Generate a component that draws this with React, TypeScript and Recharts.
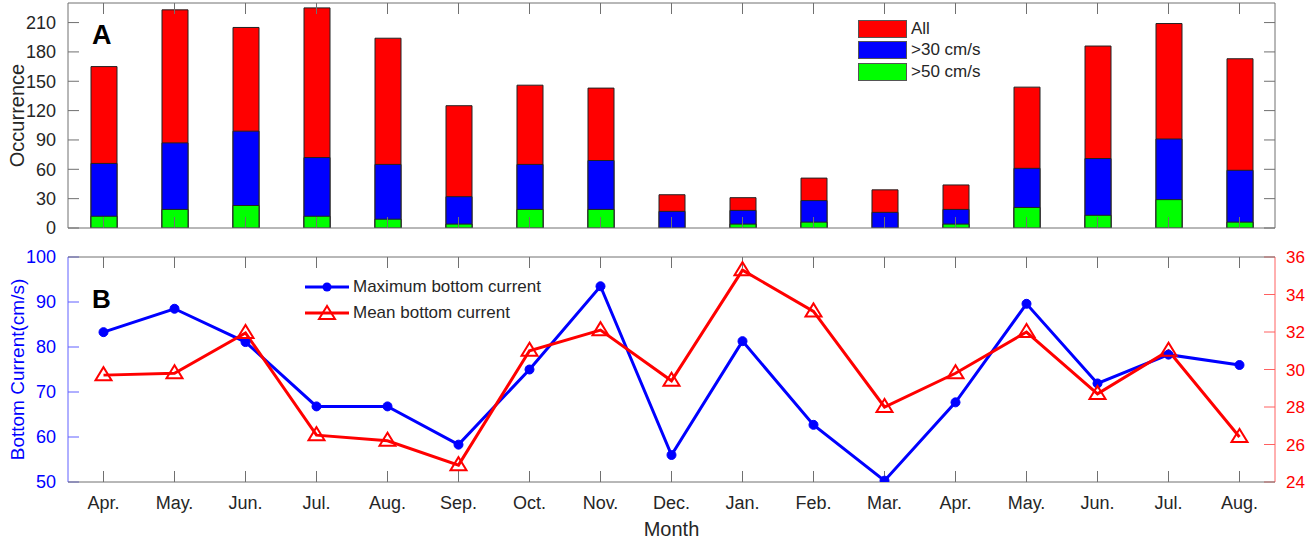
import { Bar, BarChart, Line, LineChart, XAxis, YAxis } from "recharts";

const months = [
  "Apr.", "May.", "Jun.", "Jul.", "Aug.", "Sep.", "Oct.", "Nov.", "Dec.",
  "Jan.", "Feb.", "Mar.", "Apr.", "May.", "Jun.", "Jul.", "Aug.",
];
const allCounts = [165, 223, 205, 225, 194, 125, 146, 143, 34, 31, 51, 39, 44, 144, 186, 209, 173];
const over30 = [66, 87, 99, 72, 65, 32, 65, 69, 17, 18, 28, 16, 19, 61, 71, 91, 59];
const over50 = [12, 19, 23, 12, 9, 4, 19, 19, 0, 4, 6, 0, 4, 21, 13, 29, 6];
const maxCurrent = [83.3, 88.5, 81.1, 66.8, 66.8, 58.3, 75, 93.5, 56, 81.3, 62.7, 50.3, 67.7, 89.6, 71.9, 78.3, 76];
const meanCurrent = [29.7, 29.8, 31.95, 26.5, 26.2, 24.9, 31.0, 32.1, 29.4, 35.3, 33.1, 28.0, 29.8, 32.0, 28.7, 31.0, 26.4];

const countTicks = [0, 30, 60, 90, 120, 150, 180, 210];
const maxTicks = [50, 60, 70, 80, 90, 100];
const meanTicks = [24, 26, 28, 30, 32, 34, 36];

const barSeries = [
  { key: "all", name: "All", color: "#ff0000" },
  { key: "o30", name: ">30 cm/s", color: "#0000ff" },
  { key: "o50", name: ">50 cm/s", color: "#00ff00" },
];
const lineSeries = [
  { key: "max", name: "Maximum bottom current", color: "#0000ff", shape: "dot" },
  { key: "mean", name: "Mean bottom current", color: "#ff0000", shape: "tri" },
];

const FONT = '"Liberation Sans", Arial, sans-serif';
const AXIS = "#707070";
const TXT = "#262626";
// half of one month slot, so the line points sit at the same x as the bars
const HALF_SLOT = 35.5;

const barData = months.map((m, i) => ({ month: m, all: allCounts[i], o30: over30[i], o50: over50[i] }));
const lineData = months.map((m, i) => ({ month: m, max: maxCurrent[i], mean: meanCurrent[i] }));

const blank = () => "";

function Triangle({ cx, cy, stroke }: any) {
  if (cx == null || cy == null) return null;
  return (
    <polygon
      points={`${cx},${cy - 8} ${cx - 8},${cy + 5} ${cx + 8},${cy + 5}`}
      fill="none"
      stroke={stroke}
      strokeWidth={2}
    />
  );
}

function BarLegend() {
  return (
    <div style={{ fontFamily: FONT, fontSize: 17, color: TXT }}>
      {barSeries.map((s) => (
        <div key={s.key} style={{ display: "flex", alignItems: "center", height: 21.5 }}>
          <span
            style={{ width: 47, height: 16, background: s.color, border: "1px solid #555", marginRight: 4 }}
          />
          <span>{s.name}</span>
        </div>
      ))}
    </div>
  );
}

function LineLegend() {
  return (
    <div style={{ fontFamily: FONT, fontSize: 17, color: TXT }}>
      {lineSeries.map((s) => (
        <div key={s.key} style={{ display: "flex", alignItems: "center", height: 26 }}>
          <svg width={48} height={20} style={{ marginRight: 2 }}>
            <line x1={2} x2={46} y1={10} y2={10} stroke={s.color} strokeWidth={3} />
            {s.shape === "dot" ? (
              <circle cx={24} cy={10} r={4.5} fill={s.color} />
            ) : (
              <Triangle cx={24} cy={11} stroke={s.color} />
            )}
          </svg>
          <span>{s.name}</span>
        </div>
      ))}
    </div>
  );
}

// tick marks only, drawn inside the plot box
const inwardY = (id: string, domain: number[], ticks: number[], side: "left" | "right", color: string) => (
  <YAxis
    yAxisId={id}
    orientation={side}
    mirror
    width={1}
    domain={domain}
    ticks={ticks}
    interval={0}
    allowDataOverflow
    tickSize={11}
    tickFormatter={blank}
    axisLine={false}
    tickLine={{ stroke: color }}
  />
);

export default function App() {
  return (
    <div style={{ position: "fixed", left: 0, top: 0, width: 1305, height: 540, background: "#fff", fontFamily: FONT }}>
      <div style={{ position: "absolute", left: 0, top: 0 }}>
        <BarChart
          width={1305}
          height={240}
          data={barData}
          margin={{ top: 3, right: 30, bottom: 12, left: 0 }}
          barSize={26}
          barGap={-26}
        >
          <YAxis
            domain={[0, 230]}
            ticks={countTicks}
            interval={0}
            allowDataOverflow
            width={68}
            tickLine={false}
            tickMargin={6}
            axisLine={{ stroke: AXIS }}
            tick={{ fill: TXT, fontSize: 18, fontFamily: FONT }}
            label={{ value: "Occurrence", angle: -90, position: "center", dx: -17, style: { fill: TXT, fontSize: 20, fontFamily: FONT } }}
          />
          {inwardY("lt", [0, 230], countTicks, "left", AXIS)}
          <YAxis
            yAxisId="rt"
            orientation="right"
            mirror
            width={1}
            domain={[0, 230]}
            ticks={countTicks}
            interval={0}
            allowDataOverflow
            tickSize={11}
            tickFormatter={blank}
            axisLine={{ stroke: AXIS }}
            tickLine={{ stroke: AXIS }}
          />
          {barSeries.map((s) => (
            <Bar key={s.key} dataKey={s.key} name={s.name} fill={s.color} stroke="#222" strokeWidth={1} isAnimationActive={false} />
          ))}
          <XAxis
            dataKey="month"
            mirror
            height={1}
            interval={0}
            tickSize={11}
            tickFormatter={blank}
            axisLine={{ stroke: AXIS }}
            tickLine={{ stroke: AXIS }}
          />
          <XAxis
            xAxisId="top"
            dataKey="month"
            orientation="top"
            mirror
            height={1}
            interval={0}
            tickSize={11}
            tickFormatter={blank}
            axisLine={{ stroke: AXIS }}
            tickLine={{ stroke: AXIS }}
          />
        </BarChart>
      </div>
      <div style={{ position: "absolute", left: 858, top: 18 }}>
        <BarLegend />
      </div>
      <div style={{ position: "absolute", left: 0, top: 240 }}>
        <LineChart width={1305} height={300} data={lineData} margin={{ top: 17, right: 0, bottom: 0, left: 0 }}>
          <YAxis
            yAxisId="max"
            domain={[50, 100]}
            ticks={maxTicks}
            interval={0}
            allowDataOverflow
            width={68}
            tickLine={false}
            tickMargin={6}
            axisLine={{ stroke: "#6060ff" }}
            tick={{ fill: "#0000ff", fontSize: 18, fontFamily: FONT }}
            label={{ value: "Bottom Current(cm/s)", angle: -90, position: "center", dx: -17, style: { fill: "#0000ff", fontSize: 19, fontFamily: FONT } }}
          />
          {inwardY("maxTicks", [50, 100], maxTicks, "left", "#6060ff")}
          <YAxis
            yAxisId="mean"
            orientation="right"
            domain={[24, 36]}
            ticks={meanTicks}
            interval={0}
            allowDataOverflow
            width={30}
            tickLine={false}
            tickMargin={5}
            axisLine={{ stroke: "#ff6060" }}
            tick={{ fill: "#ff0000", fontSize: 17, fontFamily: FONT }}
          />
          {inwardY("meanTicks", [24, 36], meanTicks, "right", "#ff6060")}
          <Line
            yAxisId="max"
            dataKey="max"
            name="Maximum bottom current"
            stroke="#0000ff"
            strokeWidth={3}
            dot={{ r: 4.5, fill: "#0000ff", stroke: "#0000ff", strokeWidth: 1 }}
            isAnimationActive={false}
          />
          <Line
            yAxisId="mean"
            dataKey="mean"
            name="Mean bottom current"
            stroke="#ff0000"
            strokeWidth={3}
            dot={<Triangle stroke="#ff0000" />}
            isAnimationActive={false}
          />
          <XAxis
            dataKey="month"
            mirror
            height={1}
            interval={0}
            padding={{ left: HALF_SLOT, right: HALF_SLOT }}
            tickSize={11}
            tickFormatter={blank}
            axisLine={{ stroke: AXIS }}
            tickLine={{ stroke: AXIS }}
          />
          <XAxis
            xAxisId="lab"
            dataKey="month"
            height={58}
            interval={0}
            padding={{ left: HALF_SLOT, right: HALF_SLOT }}
            tickSize={0}
            tickMargin={14}
            axisLine={false}
            tickLine={false}
            tick={{ fill: TXT, fontSize: 18, fontFamily: FONT }}
            label={{ value: "Month", position: "insideBottom", offset: 4, style: { fill: TXT, fontSize: 20, fontFamily: FONT } }}
          />
          <XAxis
            xAxisId="top"
            dataKey="month"
            orientation="top"
            mirror
            height={1}
            interval={0}
            padding={{ left: HALF_SLOT, right: HALF_SLOT }}
            tickSize={11}
            tickFormatter={blank}
            axisLine={{ stroke: AXIS }}
            tickLine={{ stroke: AXIS }}
          />
        </LineChart>
      </div>
      <div style={{ position: "absolute", left: 303, top: 274 }}>
        <LineLegend />
      </div>
      <div style={{ position: "absolute", left: 92, top: 20, fontSize: 27, fontWeight: "bold", color: "#000" }}>A</div>
      <div style={{ position: "absolute", left: 92, top: 284, fontSize: 26, fontWeight: "bold", color: "#000" }}>B</div>
    </div>
  );
}
